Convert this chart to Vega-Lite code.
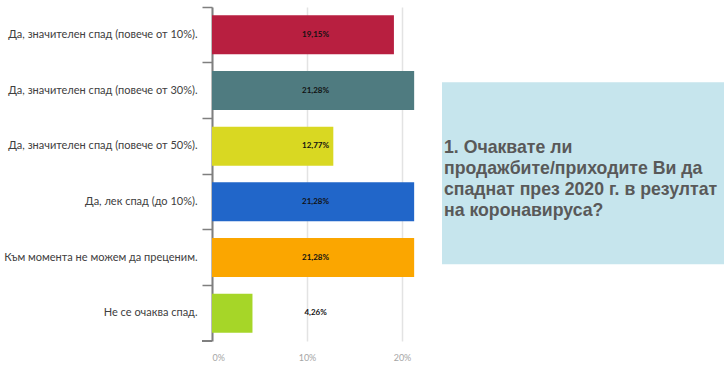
{
  "$schema": "https://vega.github.io/schema/vega-lite/v6.json",
  "background": "white",
  "padding": {"left": 3, "top": 6, "right": 0, "bottom": 0},
  "spacing": 21,
  "config": {"view": {"stroke": null}},
  "hconcat": [
    {
      "width": 209,
      "height": 334,
      "data": {
        "values": [
          {"cat": "Да, значителен спад (повече от 10%).", "v": 19.15, "lbl": "19,15%"},
          {"cat": "Да, значителен спад (повече от 30%).", "v": 21.28, "lbl": "21,28%"},
          {"cat": "Да, значителен спад (повече от 50%).", "v": 12.77, "lbl": "12,77%"},
          {"cat": "Да, лек спад (до 10%).", "v": 21.28, "lbl": "21,28%"},
          {"cat": "Към момента не можем да преценим.", "v": 21.28, "lbl": "21,28%"},
          {"cat": "Не се очаква спад.", "v": 4.26, "lbl": "4,26%"}
        ]
      },
      "encoding": {
        "y": {
          "field": "cat", "type": "nominal", "sort": null,
          "scale": {"paddingInner": 0, "paddingOuter": 0},
          "axis": {
            "title": null, "bandPosition": 0,
            "domainColor": "#7f7f7f", "domainWidth": 2,
            "tickColor": "#7f7f7f", "tickWidth": 1.5, "tickSize": 10,
            "labelFont": "Lato", "labelFontSize": 11, "labelColor": "#404040",
            "labelPadding": 5, "labelLimit": 230
          }
        }
      },
      "layer": [
        {
          "mark": {"type": "bar", "height": {"band": 0.7}},
          "encoding": {
            "x": {
              "field": "v", "type": "quantitative",
              "scale": {"domain": [0, 22], "nice": false},
              "axis": {
                "title": null, "values": [0, 10, 20],
                "labelExpr": "datum.value + '%'",
                "domain": false, "ticks": false,
                "gridColor": "#e3e3e3", "gridWidth": 1.5,
                "labelFont": "Lato", "labelColor": "#a6a6a6", "labelFontSize": 9,
                "labelPadding": 12
              }
            },
            "color": {
              "field": "cat", "type": "nominal", "sort": null, "legend": null,
              "scale": {
                "domain": [
                  "Да, значителен спад (повече от 10%).",
                  "Да, значителен спад (повече от 30%).",
                  "Да, значителен спад (повече от 50%).",
                  "Да, лек спад (до 10%).",
                  "Към момента не можем да преценим.",
                  "Не се очаква спад."
                ],
                "range": ["#b81f40", "#4f7b80", "#d9d822", "#2166c9", "#fba600", "#a6d628"]
              }
            }
          }
        },
        {
          "mark": {"type": "text", "fontWeight": "bold", "fontSize": 8, "font": "Lato", "color": "#111111"},
          "encoding": {
            "x": {"datum": 10.9, "type": "quantitative"},
            "text": {"field": "lbl"}
          }
        },
        {
          "mark": {"type": "rule", "color": "#7f7f7f", "strokeWidth": 1.5},
          "encoding": {
            "y": {"datum": "Не се очаква спад.", "bandPosition": 1},
            "x": {"datum": -1.05, "type": "quantitative"},
            "x2": {"datum": 0}
          }
        }
      ]
    },
    {
      "width": 283,
      "height": 334,
      "layer": [
        {
          "data": {"values": [{"x0": 0, "x1": 1, "y0": 22.5, "y1": 77}]},
          "mark": {"type": "rect", "color": "#c6e5ed"},
          "encoding": {
            "x": {"field": "x0", "type": "quantitative", "scale": {"domain": [0, 1], "nice": false}, "axis": null},
            "x2": {"field": "x1"},
            "y": {"field": "y0", "type": "quantitative", "scale": {"domain": [0, 100], "reverse": true, "nice": false}, "axis": null},
            "y2": {"field": "y1"}
          }
        },
        {
          "data": {"values": [{"t": "1. Очаквате ли\nпродажбите/приходите Ви да\nспаднат през 2020 г. в резултат\nна коронавируса?", "x": 0.007, "y": 42.2}]},
          "mark": {"type": "text", "lineBreak": "\n", "lineHeight": 21, "align": "left", "baseline": "middle", "font": "Liberation Sans", "fontWeight": "bold", "fontSize": 17.7, "color": "#595959"},
          "encoding": {
            "x": {"field": "x", "type": "quantitative"},
            "y": {"field": "y", "type": "quantitative"},
            "text": {"field": "t"}
          }
        }
      ]
    }
  ]
}
